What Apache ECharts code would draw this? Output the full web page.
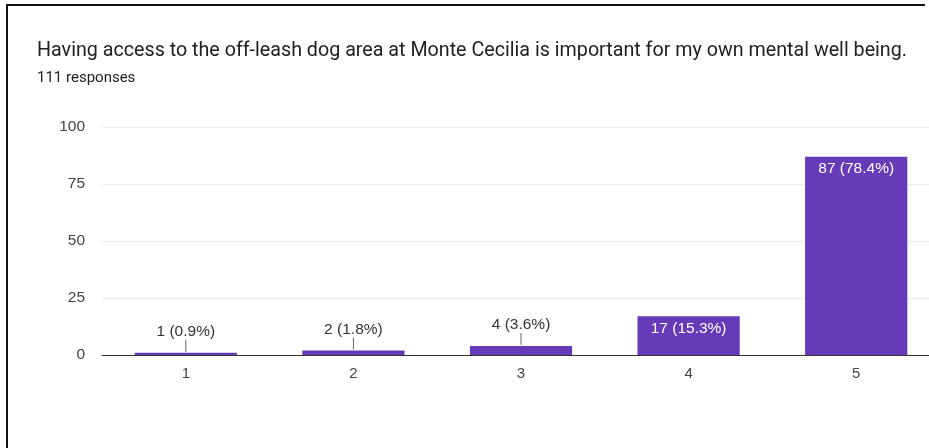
<!DOCTYPE html>
<html>
<head>
<meta charset="utf-8">
<script src="https://cdn.jsdelivr.net/npm/echarts@6/dist/echarts.min.js"></script>
<style>
html,body{margin:0;padding:0;background:#fff;overflow:hidden;width:929px;height:448px;}
#chart{width:940px;height:448px;}
</style>
</head>
<body>
<div id="chart"></div>
<script>
var titleText = 'Having access to the off-leash dog area at Monte Cecilia is important for my own mental well being.';
var subtitleText = '111 responses';
var categories = ['1', '2', '3', '4', '5'];
var counts = [1, 2, 4, 17, 87];
var totalResponses = 111;
var yTicks = [0, 25, 50, 75, 100];
var insideThreshold = 10;

var chart = echarts.init(document.getElementById('chart'));

function pct(v) { return (v / totalResponses * 100).toFixed(1); }

var outsideData = counts.map(function (v, i) { return v < insideThreshold ? [i, v] : null; }).filter(Boolean);
var labelFont = '"Liberation Sans", Arial, sans-serif';

chart.setOption({
  animation: false,
  backgroundColor: '#fff',
  textStyle: { fontFamily: labelFont },
  graphic: [
    { type: 'polyline', shape: { points: [[7, 448], [7, 5], [925, 5]] }, style: { stroke: '#111', lineWidth: 2, fill: null } },
    { type: 'text', x: 37, y: 51, style: { text: titleText, font: '19.7px Roboto', fill: '#202124', verticalAlign: 'middle' } },
    { type: 'text', x: 37, y: 78.5, style: { text: subtitleText, font: '15px Roboto', fill: '#202124', verticalAlign: 'middle' } }
  ],
  grid: { left: 102, top: 127, right: 0, height: 228, containLabel: false },
  xAxis: {
    type: 'category',
    data: categories,
    axisLine: { lineStyle: { color: '#333', width: 1 } },
    axisTick: { show: false },
    axisLabel: { color: '#444', fontSize: 15, margin: 11, fontFamily: labelFont }
  },
  yAxis: {
    type: 'value',
    min: yTicks[0],
    max: yTicks[yTicks.length - 1],
    interval: yTicks[1] - yTicks[0],
    axisLine: { show: false },
    axisTick: { show: false },
    splitLine: { lineStyle: { color: '#ececec' } },
    axisLabel: { color: '#444', fontSize: 15.5, margin: 17, fontFamily: labelFont }
  },
  series: [
    {
      type: 'bar',
      data: counts.map(function (v) {
        if (v < insideThreshold) {
          return { value: v, label: { position: 'top', distance: 13, color: '#333' } };
        }
        return { value: v, label: { position: 'insideTop', distance: 4, color: '#fff' } };
      }),
      barWidth: '61%',
      itemStyle: { color: '#673ab7' },
      label: {
        show: true,
        fontFamily: labelFont,
        fontSize: 15.5,
        formatter: function (p) { return p.value + ' (' + pct(p.value) + '%)'; }
      },
      z: 2
    },
    {
      type: 'custom',
      data: outsideData,
      z: 3,
      renderItem: function (params, api) {
        var pt = api.coord([api.value(0), api.value(1)]);
        return {
          type: 'line',
          shape: { x1: pt[0], y1: pt[1] - 1, x2: pt[0], y2: pt[1] - 13 },
          style: { stroke: '#666', lineWidth: 1 }
        };
      }
    }
  ]
});
</script>
</body>
</html>
